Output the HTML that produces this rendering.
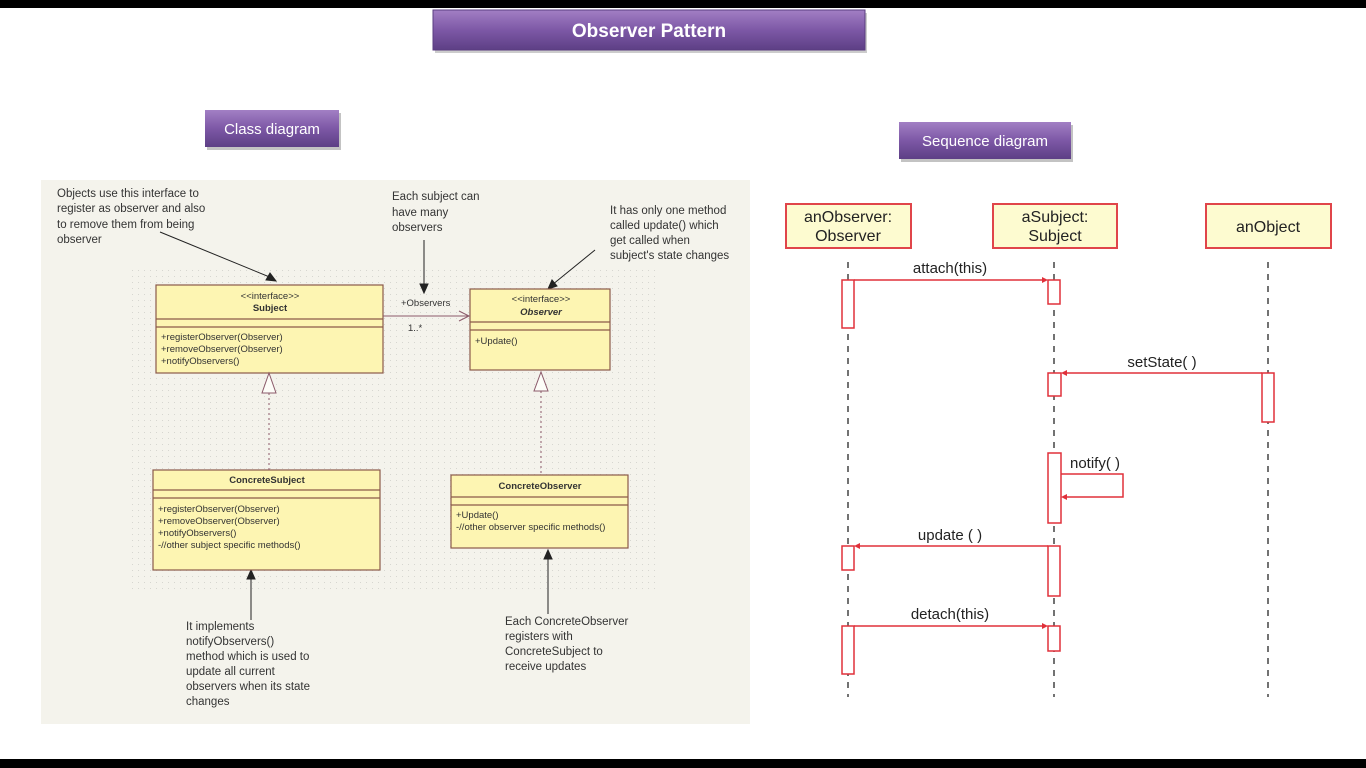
<!DOCTYPE html>
<html><head><meta charset="utf-8"><style>
body{margin:0;width:1366px;height:768px;background:#fff;overflow:hidden;font-family:"Liberation Sans",sans-serif}
svg{position:absolute;left:0;top:0}
</style></head><body>
<svg width="1366" height="768" xmlns="http://www.w3.org/2000/svg" font-family="Liberation Sans, sans-serif">
<defs>
<linearGradient id="pg" x1="0" y1="0" x2="0" y2="1"><stop offset="0" stop-color="#a27fc4"/><stop offset="0.5" stop-color="#7d58a6"/><stop offset="1" stop-color="#5d3f85"/></linearGradient>
<pattern id="dots" width="6" height="6" patternUnits="userSpaceOnUse"><rect width="6" height="6" fill="#f4f3ec"/><rect x="0" y="0" width="1" height="1" fill="#d6d6d0"/></pattern>
</defs>
<rect x="0" y="0" width="1366" height="8" fill="#000"/>
<rect x="0" y="759" width="1366" height="9" fill="#000"/>
<rect x="435" y="13" width="432" height="40" fill="#999" opacity="0.5"/>
<rect x="433" y="10" width="432" height="40" fill="url(#pg)" stroke="#5a3d80"/>
<text x="649" y="37" text-anchor="middle" font-size="19" font-weight="bold" fill="#fff">Observer  Pattern</text>
<rect x="207" y="113" width="134" height="37" fill="#888" opacity="0.5"/>
<rect x="205" y="110" width="134" height="37" fill="url(#pg)"/>
<text x="272" y="134" text-anchor="middle" font-size="15" fill="#fff">Class diagram</text>
<rect x="901" y="125" width="172" height="37" fill="#888" opacity="0.5"/>
<rect x="899" y="122" width="172" height="37" fill="url(#pg)"/>
<text x="985" y="146" text-anchor="middle" font-size="15" fill="#fff">Sequence diagram</text>

<rect x="41" y="180" width="709" height="544" fill="#f4f3ec"/>
<rect x="130" y="266" width="530" height="324" fill="url(#dots)"/>
<g font-size="11.5" fill="#333">
<text x="57" y="197">Objects use this interface to</text><text x="57" y="212">register as observer and also</text><text x="57" y="228">to remove them from being</text><text x="57" y="243">observer</text>
<text x="392" y="200">Each subject can</text><text x="392" y="216">have many</text><text x="392" y="231">observers</text>
<text x="610" y="214">It has only one method</text><text x="610" y="229">called update() which</text><text x="610" y="244">get called when</text><text x="610" y="259">subject's state changes</text>
<text x="186" y="630">It implements</text><text x="186" y="645">notifyObservers()</text><text x="186" y="660">method which is used to</text><text x="186" y="675">update all current</text><text x="186" y="690">observers when its state</text><text x="186" y="705">changes</text>
<text x="505" y="625">Each ConcreteObserver</text><text x="505" y="640">registers with</text><text x="505" y="655">ConcreteSubject to</text><text x="505" y="670">receive updates</text>
</g>
<g stroke="#222" stroke-width="1" fill="#222">
<line x1="160" y1="232" x2="272" y2="278"/><polygon points="276,281 266,280 270,273"/>
<line x1="424" y1="240" x2="424" y2="288"/><polygon points="424,293 420,284 428,284"/>
<line x1="595" y1="250" x2="552" y2="285"/><polygon points="548,289 552,280 557,286"/>
<line x1="251" y1="620" x2="251" y2="576"/><polygon points="251,570 247,579 255,579"/>
<line x1="548" y1="614" x2="548" y2="557"/><polygon points="548,550 544,559 552,559"/>
</g>
<g fill="#fdf5b2" stroke="#8b5a4a" stroke-width="1.2">
<rect x="156" y="285" width="227" height="88"/><line x1="156" y1="319" x2="383" y2="319"/><line x1="156" y1="327" x2="383" y2="327"/>
<rect x="470" y="289" width="140" height="81"/><line x1="470" y1="322" x2="610" y2="322"/><line x1="470" y1="330" x2="610" y2="330"/>
<rect x="153" y="470" width="227" height="100"/><line x1="153" y1="490" x2="380" y2="490"/><line x1="153" y1="498" x2="380" y2="498"/>
<rect x="451" y="475" width="177" height="73"/><line x1="451" y1="497" x2="628" y2="497"/><line x1="451" y1="505" x2="628" y2="505"/>
</g>
<g font-size="9.5" fill="#333">
<text x="270" y="299" text-anchor="middle">&lt;&lt;interface&gt;&gt;</text><text x="270" y="311" text-anchor="middle" font-weight="bold">Subject</text>
<text x="161" y="340">+registerObserver(Observer)</text><text x="161" y="352">+removeObserver(Observer)</text><text x="161" y="364">+notifyObservers()</text>
<text x="541" y="302" text-anchor="middle">&lt;&lt;interface&gt;&gt;</text><text x="541" y="315" text-anchor="middle" font-weight="bold" font-style="italic">Observer</text>
<text x="475" y="344">+Update()</text>
<text x="267" y="483" text-anchor="middle" font-weight="bold">ConcreteSubject</text>
<text x="158" y="512">+registerObserver(Observer)</text><text x="158" y="524">+removeObserver(Observer)</text><text x="158" y="536">+notifyObservers()</text><text x="158" y="548">-//other subject specific methods()</text>
<text x="540" y="489" text-anchor="middle" font-weight="bold">ConcreteObserver</text>
<text x="456" y="518">+Update()</text><text x="456" y="530">-//other observer specific methods()</text>
<text x="401" y="306">+Observers</text><text x="408" y="331">1..*</text>
</g>
<g stroke="#8b5a6a" fill="none" stroke-width="1">
<line x1="383" y1="316" x2="469" y2="316"/><polyline points="459,311 469,316 459,321"/>
<polygon points="269,373 262,393 276,393" fill="#fdfdf8"/><line x1="269" y1="393" x2="269" y2="470" stroke-dasharray="2,3"/>
<polygon points="541,372 534,391 548,391" fill="#fdfdf8"/><line x1="541" y1="391" x2="541" y2="475" stroke-dasharray="2,3"/>
</g>

<g fill="#fdfbd0" stroke="#e0454a" stroke-width="2">
<rect x="786" y="204" width="125" height="44"/><rect x="993" y="204" width="124" height="44"/><rect x="1206" y="204" width="125" height="44"/>
</g>
<g font-size="16" fill="#222" text-anchor="middle">
<text x="848" y="222">anObserver:</text><text x="848" y="241">Observer</text>
<text x="1055" y="222">aSubject:</text><text x="1055" y="241">Subject</text>
<text x="1268" y="232">anObject</text>
<text x="950" y="273" font-size="15">attach(this)</text>
<text x="1162" y="367" font-size="15">setState( )</text>
<text x="1095" y="468" font-size="15">notify( )</text>
<text x="950" y="540" font-size="15">update ( )</text>
<text x="950" y="619" font-size="15">detach(this)</text>
</g>
<g stroke="#444" stroke-width="1.5" stroke-dasharray="6,6">
<line x1="848" y1="262" x2="848" y2="697"/><line x1="1054" y1="262" x2="1054" y2="697"/><line x1="1268" y1="262" x2="1268" y2="697"/>
</g>
<g fill="#fff" stroke="#e0303a" stroke-width="1.5">
<rect x="842" y="280" width="12" height="48"/><rect x="1048" y="280" width="12" height="24"/>
<rect x="1048" y="373" width="13" height="23"/><rect x="1262" y="373" width="12" height="49"/>
<rect x="1048" y="453" width="13" height="70"/>
<rect x="842" y="546" width="12" height="24"/><rect x="1048" y="546" width="12" height="50"/>
<rect x="842" y="626" width="12" height="48"/><rect x="1048" y="626" width="12" height="25"/>
</g>
<g stroke="#e0303a" stroke-width="1.5" fill="none">
<line x1="854" y1="280" x2="1046" y2="280"/><line x1="1262" y1="373" x2="1063" y2="373"/>
<polyline points="1061,474 1123,474 1123,497 1063,497"/>
<line x1="1048" y1="546" x2="856" y2="546"/><line x1="854" y1="626" x2="1046" y2="626"/>
</g>
<g fill="#e0303a">
<polygon points="1048,280 1042,277 1042,283"/><polygon points="1061,373 1067,370 1067,376"/>
<polygon points="1061,497 1067,494 1067,500"/><polygon points="854,546 860,543 860,549"/><polygon points="1048,626 1042,623 1042,629"/>
</g>
</svg>
</body></html>
